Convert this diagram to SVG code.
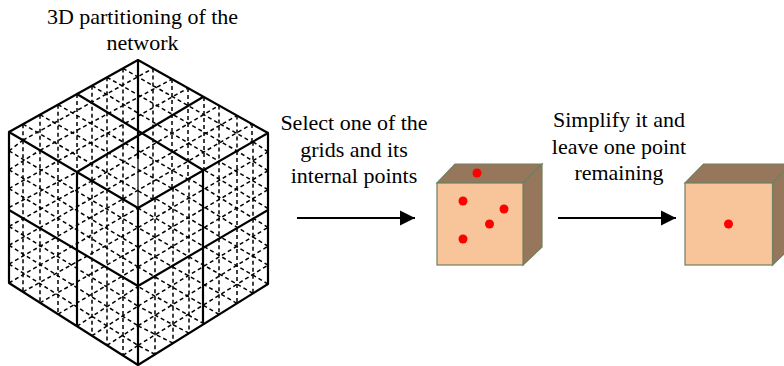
<svg xmlns="http://www.w3.org/2000/svg" width="784" height="366" viewBox="0 0 784 366">
<style>
text{font-family:"Liberation Serif","Times New Roman",serif;font-size:22px;fill:#000;text-anchor:middle}
.grid{fill:none;stroke:#000;stroke-width:1.5;stroke-dasharray:4 3}
.solid{fill:none;stroke:#000;stroke-width:2.2;stroke-linecap:round;stroke-linejoin:round}
.front{fill:#F8C59B;stroke:#6F7F60;stroke-width:1.2}
.shade{fill:#96775C;stroke:#6F7F60;stroke-width:1.2}
.pt{fill:#FF0000}
.arrow{fill:none;stroke:#000;stroke-width:2;marker-end:url(#head)}
</style>
<defs>
<marker id="head" markerUnits="userSpaceOnUse" markerWidth="16" markerHeight="16" refX="15" refY="8" orient="auto"><path d="M0 0.5L15 8L0 15.5Z" fill="#000"/></marker>
</defs>
<g id="network-grid">
<path class="grid" d="M23 124.2V140.2M40 114.7V150.3M58 104.7V160.9M77 94V172M92 85.7V180.8M107 77.3V189.600M123 68.400V199M153 68.400V199.400M172 79.100V188.400M188 88.100V179.200M204 97.100V169.900M219 105.500V161.300M237 115.600V150.900M252 124V142.200"/>
<path class="grid" d="M23 124.200L153 199.400M40 114.700L172 188.400M58 104.700L188 179.200M92 85.700L219 161.300M107 77.300L237 150.900M123 68.400L252 142.200"/>
<path class="grid" d="M23 140.200L153 68.400M40 150.300L172 79.100M58 160.900L188 88.100M92 180.800L219 105.500M107 189.600L237 115.600M123 199L252 124"/>
<path class="grid" d="M23 140.200V291.900M40 150.300V302.800M58 160.900V314.200M92 180.800V335.700M107 189.600V345.300M123 199V355.400"/>
<path class="grid" d="M9 150.900L138 227.600M9 169.750L138 247.250M9 188.600L138 266.900M9 226.400L138 306.100M9 245.250L138 325.750M9 264.100L138 345.400"/>
<path class="grid" d="M9 150.900L23 140.200M9 169.750L40 150.300M9 188.600L58 160.900M9 207.500L77 172M9 226.400L92 180.800M9 245.250L107 189.600M9 264.100L123 199M9 283L138 208M23 291.900L138 227.600M40 302.800L138 247.250M58 314.200L138 266.900M77 326.200L138 286.500M92 335.700L138 306.100M107 345.300L138 325.750M123 355.400L138 345.400"/>
<path class="grid" d="M155 198.200V354.400M173 187.800V343.200M189 178.500V333.200M219 161.300V314.500M237 150.900V303.300M253 141.700V293.300"/>
<path class="grid" d="M138 227.600L268 151.900M138 247.250L268 170.750M138 266.900L268 189.600M138 306.100L268 227.400M138 325.750L268 246.250M138 345.400L268 265.100"/>
<path class="grid" d="M268 151.900L253 141.700M268 170.750L237 150.900M268 189.600L219 161.300M268 208.500L204 169.900M268 227.400L189 178.500M268 246.250L173 187.800M268 265.100L155 198.200M268 284L138 208M253 293.300L138 227.600M237 303.300L138 247.250M219 314.500L138 266.900M204 323.900L138 286.500M189 333.200L138 306.100M173 343.200L138 325.750M155 354.400L138 345.400"/>
<path class="solid" d="M9 132L138 60L268 133V284L138 365L9 283ZM9 132L138 208L268 133M138 208V365M77 94L203 170M77 172L203 97M138 60V158M9 210L138 286L268 210M77 172V325M203 170V322"/>
<path d="M138 158V208" fill="none" stroke="#000" stroke-width="1.2"/>
</g>
<g id="title">
<text x="142.500" y="24">3D partitioning of the</text>
<text x="142.500" y="50">network</text>
</g>
<g id="label-select">
<text x="354" y="130">Select one of the</text>
<text x="354" y="157">grids and its</text>
<text x="354" y="183">internal points</text>
</g>
<g id="label-simplify">
<text x="619" y="127">Simplify it and</text>
<text x="619" y="154">leave one point</text>
<text x="619" y="180">remaining</text>
</g>
<g id="connectors">
<path class="arrow" d="M297 218H415"/>
<path class="arrow" d="M558 218H676"/>
</g>
<g id="cube-points">
<path class="shade" d="M437 183L455 164H542L523 183Z"/>
<path class="shade" d="M523 183L542 164V247L523 265Z"/>
<rect class="front" x="437" y="183" width="86" height="82"/>
<circle class="pt" cx="477" cy="173" r="4.500"/>
<circle class="pt" cx="463" cy="201" r="4.500"/>
<circle class="pt" cx="504" cy="209" r="4.500"/>
<circle class="pt" cx="489.500" cy="224" r="4.500"/>
<circle class="pt" cx="463" cy="239" r="4.500"/>
</g>
<g id="cube-simplified">
<path class="shade" d="M685 183L703.500 164H791L772.500 183Z"/>
<path class="shade" d="M772.500 183L791 164V247L772.500 265Z"/>
<rect class="front" x="685" y="183" width="87.500" height="82"/>
<circle class="pt" cx="728.500" cy="224" r="4.500"/>
</g>
</svg>
